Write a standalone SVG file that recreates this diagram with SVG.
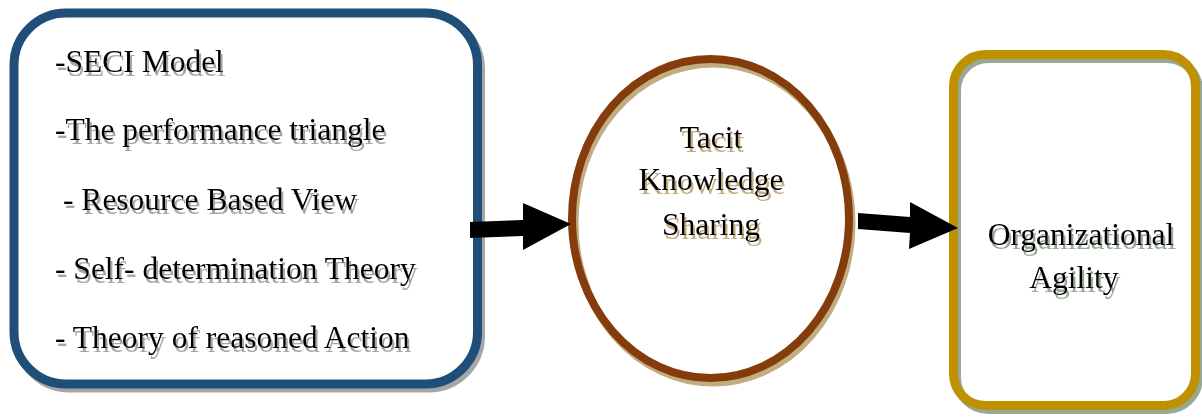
<svg xmlns="http://www.w3.org/2000/svg" width="1202" height="417" viewBox="0 0 1202 417">
  <defs>
    <!-- hard offset shadows for labels, one tint per node -->
    <filter id="shadow-gray" x="-5%" y="-20%" width="115%" height="150%">
      <feFlood flood-color="#a6a6a6" result="c"/>
      <feComposite in="c" in2="SourceAlpha" operator="in" result="s"/>
      <feOffset in="s" dx="2" dy="4" result="o"/>
      <feMerge><feMergeNode in="o"/><feMergeNode in="SourceGraphic"/></feMerge>
    </filter>
    <filter id="shadow-tan" x="-5%" y="-20%" width="115%" height="150%">
      <feFlood flood-color="#c2ad80" result="c"/>
      <feComposite in="c" in2="SourceAlpha" operator="in" result="s"/>
      <feOffset in="s" dx="2" dy="4" result="o"/>
      <feMerge><feMergeNode in="o"/><feMergeNode in="SourceGraphic"/></feMerge>
    </filter>
    <filter id="shadow-sage" x="-5%" y="-20%" width="115%" height="150%">
      <feFlood flood-color="#98a896" result="c"/>
      <feComposite in="c" in2="SourceAlpha" operator="in" result="s"/>
      <feOffset in="s" dx="2" dy="4" result="o"/>
      <feMerge><feMergeNode in="o"/><feMergeNode in="SourceGraphic"/></feMerge>
    </filter>
  </defs>
  <style>
    .lbl { font-family: "Liberation Serif", "Times New Roman", serif; font-size: 31.5px; fill: #000000; }
    .mid { text-anchor: middle; }
    .arrow { fill: #000000; }
  </style>
  <rect width="1202" height="417" fill="#ffffff"/>

  <!-- Theories box -->
  <g id="node-theories">
    <rect x="17.5" y="17" width="463" height="371" rx="52" fill="none" stroke="#a6a6a6" stroke-width="9"/>
    <rect x="14" y="13" width="463.5" height="371" rx="52" fill="#ffffff" stroke="#1f4e79" stroke-width="9"/>
    <g class="lbl" filter="url(#shadow-gray)">
      <text x="55" y="72">-SECI Model</text>
      <text x="55" y="140">-The performance triangle</text>
      <text x="63" y="210">- Resource Based View</text>
      <text x="55" y="279">- Self- determination Theory</text>
      <text x="55" y="348">- Theory of reasoned Action</text>
    </g>
  </g>

  <!-- Tacit Knowledge Sharing ellipse -->
  <g id="node-tks">
    <ellipse cx="713" cy="223" rx="138.5" ry="159.5" fill="none" stroke="#c2ad80" stroke-width="8"/>
    <ellipse cx="710.5" cy="218.5" rx="138.5" ry="159.5" fill="none" stroke="#843c0c" stroke-width="8"/>
    <g class="lbl mid" filter="url(#shadow-tan)">
      <text x="711" y="148">Tacit</text>
      <text x="711" y="190">Knowledge</text>
      <text x="711" y="235">Sharing</text>
    </g>
  </g>

  <!-- Organizational Agility box -->
  <g id="node-agility">
    <rect x="956.5" y="58.5" width="242" height="351" rx="32" fill="none" stroke="#98a896" stroke-width="9"/>
    <rect x="953.5" y="54.5" width="242" height="351" rx="32" fill="none" stroke="#bf9000" stroke-width="9"/>
    <g class="lbl mid" filter="url(#shadow-sage)">
      <text x="1081" y="245">Organizational</text>
      <text x="1074" y="288">Agility</text>
    </g>
  </g>

  <!-- Block arrows -->
  <g id="connectors">
    <polygon class="arrow" points="470,222 523,220 523,203 571,224 523,250 523,236 470,238"/>
    <polygon class="arrow" points="858,213 910,217 910,202 958,228 909,249 910,233 858,229"/>
  </g>
</svg>
